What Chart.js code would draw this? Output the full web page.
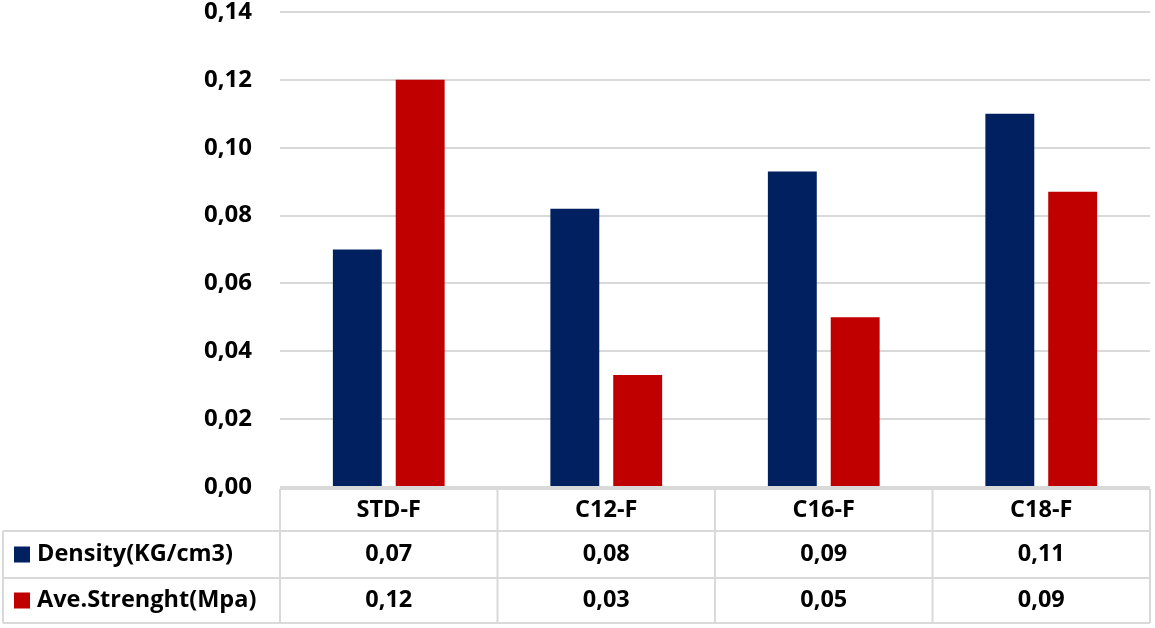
<!DOCTYPE html>
<html>
<head>
<meta charset="utf-8">
<script src="https://cdn.jsdelivr.net/npm/chart.js@4.4.1/dist/chart.umd.min.js"></script>
<style>
  html, body { margin: 0; padding: 0; background: #fff; }
  #wrap { width: 1155px; height: 628px; }
</style>
</head>
<body>
<div id="wrap"><canvas id="chart"></canvas></div>
<script>
// data
const categories = ['STD-F', 'C12-F', 'C16-F', 'C18-F'];
const density = [0.070, 0.082, 0.093, 0.110];
const strength = [0.120, 0.033, 0.050, 0.087];
const seriesNames = ['Density(KG/cm3)', 'Ave.Strenght(Mpa)'];
const seriesColors = ['#002060', '#C00000'];

const FONT = '"Open Sans"';
const fmt = v => v.toFixed(2).replace('.', ',');

// data table under the plot, columns follow the x scale
const dataTable = {
  id: 'dataTable',
  afterDraw(chart) {
    const ctx = chart.ctx;
    const x = chart.scales.x;
    const area = chart.chartArea;
    const colW = (area.right - area.left) / categories.length;
    const top = area.bottom + 2;
    const rows = [top, top + 42, top + 89, top + 134];
    const legendLeft = 3;

    ctx.save();
    ctx.strokeStyle = '#d9d9d9';
    ctx.lineWidth = 2;
    ctx.beginPath();
    // header row
    ctx.moveTo(area.left, rows[0]); ctx.lineTo(area.right, rows[0]);
    // data rows
    for (let r = 1; r < rows.length; r++) {
      ctx.moveTo(legendLeft, rows[r]); ctx.lineTo(area.right, rows[r]);
    }
    ctx.moveTo(legendLeft, rows[1]); ctx.lineTo(legendLeft, rows[3]);
    for (let i = 0; i <= categories.length; i++) {
      const cx = area.left + i * colW;
      ctx.moveTo(cx, rows[0]); ctx.lineTo(cx, rows[3]);
    }
    ctx.stroke();

    ctx.fillStyle = '#000';
    ctx.font = 'bold 23.5px ' + FONT;
    ctx.textBaseline = 'middle';
    ctx.textAlign = 'center';
    const series = [density, strength];
    categories.forEach((c, i) => {
      const cx = x.getPixelForValue(i);
      ctx.fillText(c, cx, (rows[0] + rows[1]) / 2);
      series.forEach((s, j) => {
        ctx.fillText(fmt(s[i]), cx, (rows[j + 1] + rows[j + 2]) / 2);
      });
    });

    ctx.textAlign = 'left';
    seriesNames.forEach((name, j) => {
      const cy = (rows[j + 1] + rows[j + 2]) / 2;
      ctx.fillStyle = seriesColors[j];
      ctx.fillRect(14, cy - 8, 16, 16);
      ctx.fillStyle = '#000';
      ctx.fillText(name, 37, cy);
    });
    ctx.restore();
  }
};

new Chart(document.getElementById('chart'), {
  type: 'bar',
  data: {
    labels: categories,
    datasets: [
      { label: seriesNames[0], data: density, backgroundColor: seriesColors[0] },
      { label: seriesNames[1], data: strength, backgroundColor: seriesColors[1] }
    ]
  },
  options: {
    responsive: true,
    maintainAspectRatio: false,
    animation: false,
    layout: { padding: { top: 12, right: 5, bottom: 141, left: 0 } },
    datasets: {
      bar: { categoryPercentage: 0.578, barPercentage: 0.778, borderWidth: 0 }
    },
    scales: {
      x: { display: false },
      y: {
        min: 0,
        max: 0.14,
        afterFit(scale) {
          scale.width = 280;
          scale.paddingTop = 0;
          scale.paddingBottom = 0;
        },
        border: { display: false },
        grid: { color: '#d9d9d9', lineWidth: 2, drawTicks: false },
        ticks: {
          stepSize: 0.02,
          padding: 28,
          color: '#000',
          font: { family: FONT, size: 24, weight: 'bold' },
          callback: v => fmt(v)
        }
      }
    },
    plugins: {
      legend: { display: false },
      tooltip: { enabled: false }
    }
  },
  plugins: [dataTable]
});
</script>
</body>
</html>
